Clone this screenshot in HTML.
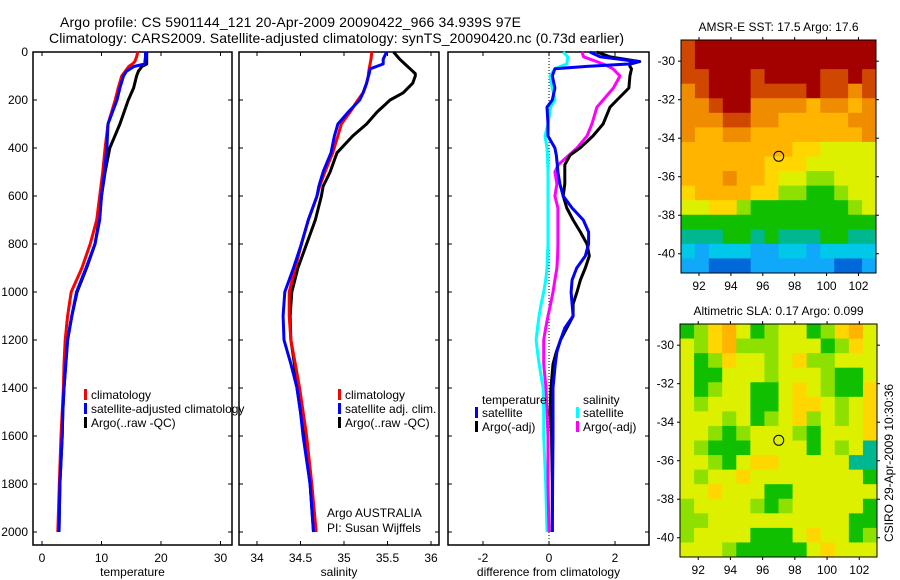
<!DOCTYPE html>
<html><head><meta charset="utf-8"><style>
body{margin:0;background:#fff;}
svg{display:block;font-family:"Liberation Sans",sans-serif;}
</style></head><body>
<svg id="fig" width="900" height="580" viewBox="0 0 900 580"></svg>
<script>
// ---------- profile data ----------
const depthT = [0,20,40,50,60,80,100,150,200,300,400,500,600,700,800,900,1000,1100,1200,1300,1400,1500,1600,1800,2000];
const tempClim = [16.1,15.9,15.6,15.2,14.6,14.0,13.4,12.8,12.3,11.1,10.6,10.2,9.7,9.2,8.1,6.7,4.9,4.3,3.9,3.7,3.6,3.4,3.2,2.9,2.65];
const tempSat  = [17.4,17.4,17.3,17.3,15.5,14.2,13.7,13.1,12.6,11.1,10.9,10.5,10.0,9.7,8.9,7.4,5.8,5.0,4.3,4.0,3.7,3.5,3.4,3.0,2.85];
const tempArgo = [17.6,17.6,17.6,17.6,16.8,16.2,15.9,15.4,14.5,13.1,11.4,10.6,10.0,9.6,8.9,7.5,5.9,5.0,4.3,4.0,3.7,3.5,3.4,3.0,2.85];

const depthS = [0,30,50,70,90,100,130,170,200,250,300,350,420,500,560,600,700,800,900,1000,1100,1200,1300,1400,1500,1600,1800,2000];
const salClim = [35.32,35.31,35.30,35.29,35.28,35.28,35.26,35.22,35.16,35.07,34.97,34.93,34.87,34.78,34.72,34.69,34.59,34.51,34.44,34.37,34.37,34.39,34.44,34.49,34.53,34.57,34.63,34.68];
const salSat  = [35.49,35.45,35.45,35.30,35.29,35.28,35.26,35.22,35.18,35.05,34.93,34.89,34.85,34.76,34.71,34.69,34.59,34.51,34.42,34.32,34.30,34.31,34.39,34.46,34.50,34.53,34.61,34.65];
const salArgo = [35.57,35.64,35.70,35.76,35.82,35.82,35.79,35.68,35.53,35.38,35.26,35.10,34.92,34.84,34.76,34.74,34.67,34.57,34.47,34.40,34.38,34.39,34.43,34.46,34.50,34.54,34.61,34.65];

const depthD = [0,20,40,50,60,70,100,150,200,230,300,350,400,430,470,500,550,600,650,700,750,800,850,900,950,1000,1050,1100,1150,1200,1250,1300,1400,1500,1600,1800,2000];
const dTempSat  = [1.24,1.55,2.7,2.4,1.15,0.18,0.10,0.18,0.10,-0.06,-0.03,-0.03,0.18,0.22,0.25,0.27,0.33,0.43,0.70,1.04,1.20,1.20,1.10,0.84,0.70,0.67,0.70,0.73,0.48,0.35,0.24,0.19,0.12,0.12,0.12,0.11,0.10];
const dTempArgo = [1.45,1.85,2.75,2.45,2.45,2.5,2.45,2.42,2.06,1.85,1.64,1.33,0.94,0.64,0.48,0.48,0.48,0.43,0.54,0.73,0.95,1.15,1.22,1.10,0.95,0.85,0.73,0.73,0.54,0.35,0.22,0.12,0.06,0.03,0.08,0.10,0.10];
const dSalSat   = [0.43,0.57,0.55,0.54,0.35,0.18,0.03,0.10,0.18,0.05,-0.03,-0.12,-0.06,-0.05,-0.04,-0.03,-0.03,-0.03,-0.03,-0.03,-0.03,-0.03,-0.05,-0.06,-0.10,-0.16,-0.24,-0.30,-0.35,-0.39,-0.35,-0.30,-0.18,-0.16,-0.16,-0.10,-0.06];
const dSalArgo  = [1.0,1.05,1.45,1.64,1.8,1.94,2.15,1.95,1.64,1.45,1.30,1.15,0.85,0.60,0.28,0.18,0.24,0.18,0.27,0.27,0.27,0.27,0.26,0.24,0.18,0.12,0.05,-0.03,-0.10,-0.16,-0.16,-0.16,-0.09,-0.06,-0.03,-0.03,0.0];

const depthTicks = [0,200,400,600,800,1000,1200,1400,1600,1800,2000];
const tempTicks = [0,10,20,30];
const salTicks = [34,34.5,35,35.5,36];
const salTickLabels = ["34","34.5","35","35.5","36"];
const diffTicks = [-2,0,2];
const lonTicks = [92,94,96,98,100,102];
const latTicks = [-30,-32,-34,-36,-38,-40];

// ---------- map data (colour-level grid, rows north->south) ----------
const sstRows = [
"89999999999999","89999999999999","88999899998898","78999888898878",
"77899777767767","77788776666677","76677666666667","66666666554444",
"66666655544444","66676654433444","56666553322344","44553222222234",
"22222222222222","11122121112211","0a000aa00a0000","aabbbaaaaaabba"];
const slaRows = [
"23564234423564","43563334442354","42354434533444","42244434443224",
"42344224543225","43444224554345","44434234534345","44323444324445",
"43222444424341","44324554444411","43445444444442","44544422444444",
"34444323444442","33444444444422","34444222454423","44432222245444"];
const levelColors = {"9":"#a30000","8":"#d04800","7":"#f08c00","6":"#ffb400","5":"#ffd600","4":"#dcf000","3":"#8ee000","2":"#10c000","1":"#00b890","0":"#00c8e8","a":"#10a8f8","b":"#0068d8"};

const NS="http://www.w3.org/2000/svg";
const svg=document.getElementById('fig');
function mk(tag,attrs,parent){const e=document.createElementNS(NS,tag);for(const k in attrs)e.setAttribute(k,attrs[k]);(parent||svg).appendChild(e);return e;}
function txt(s,x,y,anchor,size,parent){const t=mk('text',{x:x,y:y,'text-anchor':anchor||'start','font-size':size||12,fill:'#000'},parent);t.textContent=s;return t;}

// title
const t1=txt("Argo profile: CS 5901144_121 20-Apr-2009 20090422_966 34.939S 97E",60,27,'start',14);


t1.setAttribute('textLength','461');
const t2=txt("Climatology: CARS2009. Satellite-adjusted climatology: synTS_20090420.nc (0.73d earlier)",49,43,'start',14);


t2.setAttribute('textLength','575');

const PT=52, PB=545;
const yD=d=>PT+d*0.24;
const panels=[
 {name:'temperature-panel',x0:33,x1:232,sx:v=>42+v*5.95,ticks:tempTicks,labels:tempTicks.map(String),xlabel:'temperature'},
 {name:'salinity-panel',x0:239,x1:439,sx:v=>257+(v-34)*87,ticks:salTicks,labels:salTickLabels,xlabel:'salinity'},
 {name:'difference-panel',x0:448,x1:649,sx:v=>549+v*33,ticks:diffTicks,labels:diffTicks.map(String),xlabel:'difference from climatology'}
];
panels.forEach((p,i)=>{
  const g=mk('g',{});
  
  
  const r=mk('rect',{x:p.x0,y:PT,width:p.x1-p.x0,height:PB-PT,fill:'none',stroke:'#000','stroke-width':1.5},g);
  
  
  p.ticks.forEach((v,j)=>{
    const x=p.sx(v);
    mk('line',{x1:x,x2:x,y1:PB,y2:PB-4,stroke:'#000'},g);
    mk('line',{x1:x,x2:x,y1:PT,y2:PT+4,stroke:'#000'},g);
    const l=txt(p.labels[j],x,562,'middle',12,g);
    
    
  });
  depthTicks.forEach(d=>{
    const y=yD(d);
    mk('line',{x1:p.x0,x2:p.x0+4,y1:y,y2:y,stroke:'#000'},g);
    mk('line',{x1:p.x1,x2:p.x1-4,y1:y,y2:y,stroke:'#000'},g);
    if(i===0){
      const l=txt(String(d),28,y+4,'end',12,g);
      
      
    }
  });
  const xl=txt(p.xlabel,(p.x0+p.x1)/2,576,'middle',12,g);
  
  
  p.g=g;
});

function line(g,depths,vals,sx,color,name){
  const pts=depths.map((d,k)=>sx(vals[k]).toFixed(1)+','+yD(d).toFixed(1)).join(' ');
  const pl=mk('polyline',{points:pts,fill:'none',stroke:color,'stroke-width':3,'stroke-linejoin':'round'},g);
  
  
}
// zero line in diff panel
const zl=mk('line',{x1:panels[2].sx(0),x2:panels[2].sx(0),y1:PT,y2:PB,stroke:'#000','stroke-dasharray':'1,2'},panels[2].g);



line(panels[0].g,depthT,tempArgo,panels[0].sx,'#000','temp-argo-line');
line(panels[0].g,depthT,tempClim,panels[0].sx,'#f00','temp-climatology-line');
line(panels[0].g,depthT,tempSat,panels[0].sx,'#00f','temp-satellite-line');
line(panels[1].g,depthS,salArgo,panels[1].sx,'#000','sal-argo-line');
line(panels[1].g,depthS,salClim,panels[1].sx,'#f00','sal-climatology-line');
line(panels[1].g,depthS,salSat,panels[1].sx,'#00f','sal-satellite-line');
line(panels[2].g,depthD,dSalSat,panels[2].sx,'#0ff','diff-sal-satellite-line');
line(panels[2].g,depthD,dSalArgo,panels[2].sx,'#f0f','diff-sal-argo-line');
line(panels[2].g,depthD,dTempArgo,panels[2].sx,'#000','diff-temp-argo-line');
line(panels[2].g,depthD,dTempSat,panels[2].sx,'#00f','diff-temp-satellite-line');

function legendEntry(g,x,y,color,label){
  const e=mk('g',{},g);
  
  
  mk('rect',{x:x,y:y-10,width:3,height:11,fill:color},e);
  txt(label,x+7,y,'start',12,e);
}
[[399,'#f00','climatology'],[413,'#00f','satellite-adjusted climatology'],[427,'#000','Argo(..raw -QC)']].forEach(a=>legendEntry(panels[0].g,84,a[0],a[1],a[2]));
[[399,'#f00','climatology'],[413,'#00f','satellite adj. clim.'],[427,'#000','Argo(..raw -QC)']].forEach(a=>legendEntry(panels[1].g,338,a[0],a[1],a[2]));
const lh1=txt('temperature',482,404,'start',12,panels[2].g);


const lh2=txt('salinity',583,404,'start',12,panels[2].g);


legendEntry(panels[2].g,475,417,'#00f','satellite');
legendEntry(panels[2].g,475,431,'#000','Argo(-adj)');
legendEntry(panels[2].g,576,417,'#0ff','satellite');
legendEntry(panels[2].g,576,431,'#f0f','Argo(-adj)');
const cr1=txt('Argo AUSTRALIA',327,517,'start',12,panels[1].g);


const cr2=txt('PI: Susan Wijffels',327,532,'start',12,panels[1].g);



// maps
function drawMap(name,rows,L,title,lonTopY){
  const g=mk('g',{});
  
  
  const lonMin=90.87,lonMax=103.1,latMax=-28.9,latMin=-41.0;
  const sx=lon=>L.x0+(lon-lonMin)/(lonMax-lonMin)*(L.x1-L.x0);
  const sy=lat=>L.y0+(latMax-lat)/(latMax-latMin)*(L.y1-L.y0);
  const nr=rows.length,nc=rows[0].length;
  const dlon=(lonMax-lonMin)/nc,dlat=(latMax-latMin)/nr;
  rows.forEach((row,ri)=>{
    for(let ci=0;ci<nc;ci++){
      const x=sx(lonMin+ci*dlon),y=sy(latMax-ri*dlat);
      const c=mk('rect',{x:x.toFixed(2),y:y.toFixed(2),width:(sx(lonMin+(ci+1)*dlon)-x+0.5).toFixed(2),height:(sy(latMax-(ri+1)*dlat)-y+0.5).toFixed(2),fill:levelColors[row[ci]]},g);
      
      
    }
  });
  const fr=mk('rect',{x:L.x0,y:L.y0,width:L.x1-L.x0,height:L.y1-L.y0,fill:'none',stroke:'#000','stroke-width':1},g);
  
  
  lonTicks.forEach(v=>{
    const x=sx(v);
    mk('line',{x1:x,x2:x,y1:L.y1,y2:L.y1+3,stroke:'#000'},g);
    mk('line',{x1:x,x2:x,y1:L.y0,y2:L.y0-3,stroke:'#000'},g);
    const l=txt(String(v),x,L.y1+17,'middle',12,g);
    
    
  });
  latTicks.forEach(v=>{
    const y=sy(v);
    mk('line',{x1:L.x0,x2:L.x0-3,y1:y,y2:y,stroke:'#000'},g);
    mk('line',{x1:L.x1,x2:L.x1+3,y1:y,y2:y,stroke:'#000'},g);
    const l=txt(String(v),L.x0-6,y+4,'end',12,g);
    
    
  });
  const m=mk('circle',{cx:sx(97),cy:sy(-34.94),r:5,fill:'none',stroke:'#000','stroke-width':1},g);
  
  
  const tt=txt(title,(L.x0+L.x1)/2,L.y0-9,'middle',12,g);
  
  
}
drawMap('sst-map',sstRows,{x0:681,x1:876,y0:40,y1:273},'AMSR-E SST: 17.5 Argo: 17.6');
drawMap('sla-map',slaRows,{x0:680,x1:877,y0:324,y1:557},'Altimetric SLA: 0.17 Argo: 0.099');

const stamp=txt('CSIRO 29-Apr-2009 10:30:36',0,0,'middle',12);
stamp.setAttribute('transform','translate(893,463) rotate(-90)');


</script>
</body></html>
